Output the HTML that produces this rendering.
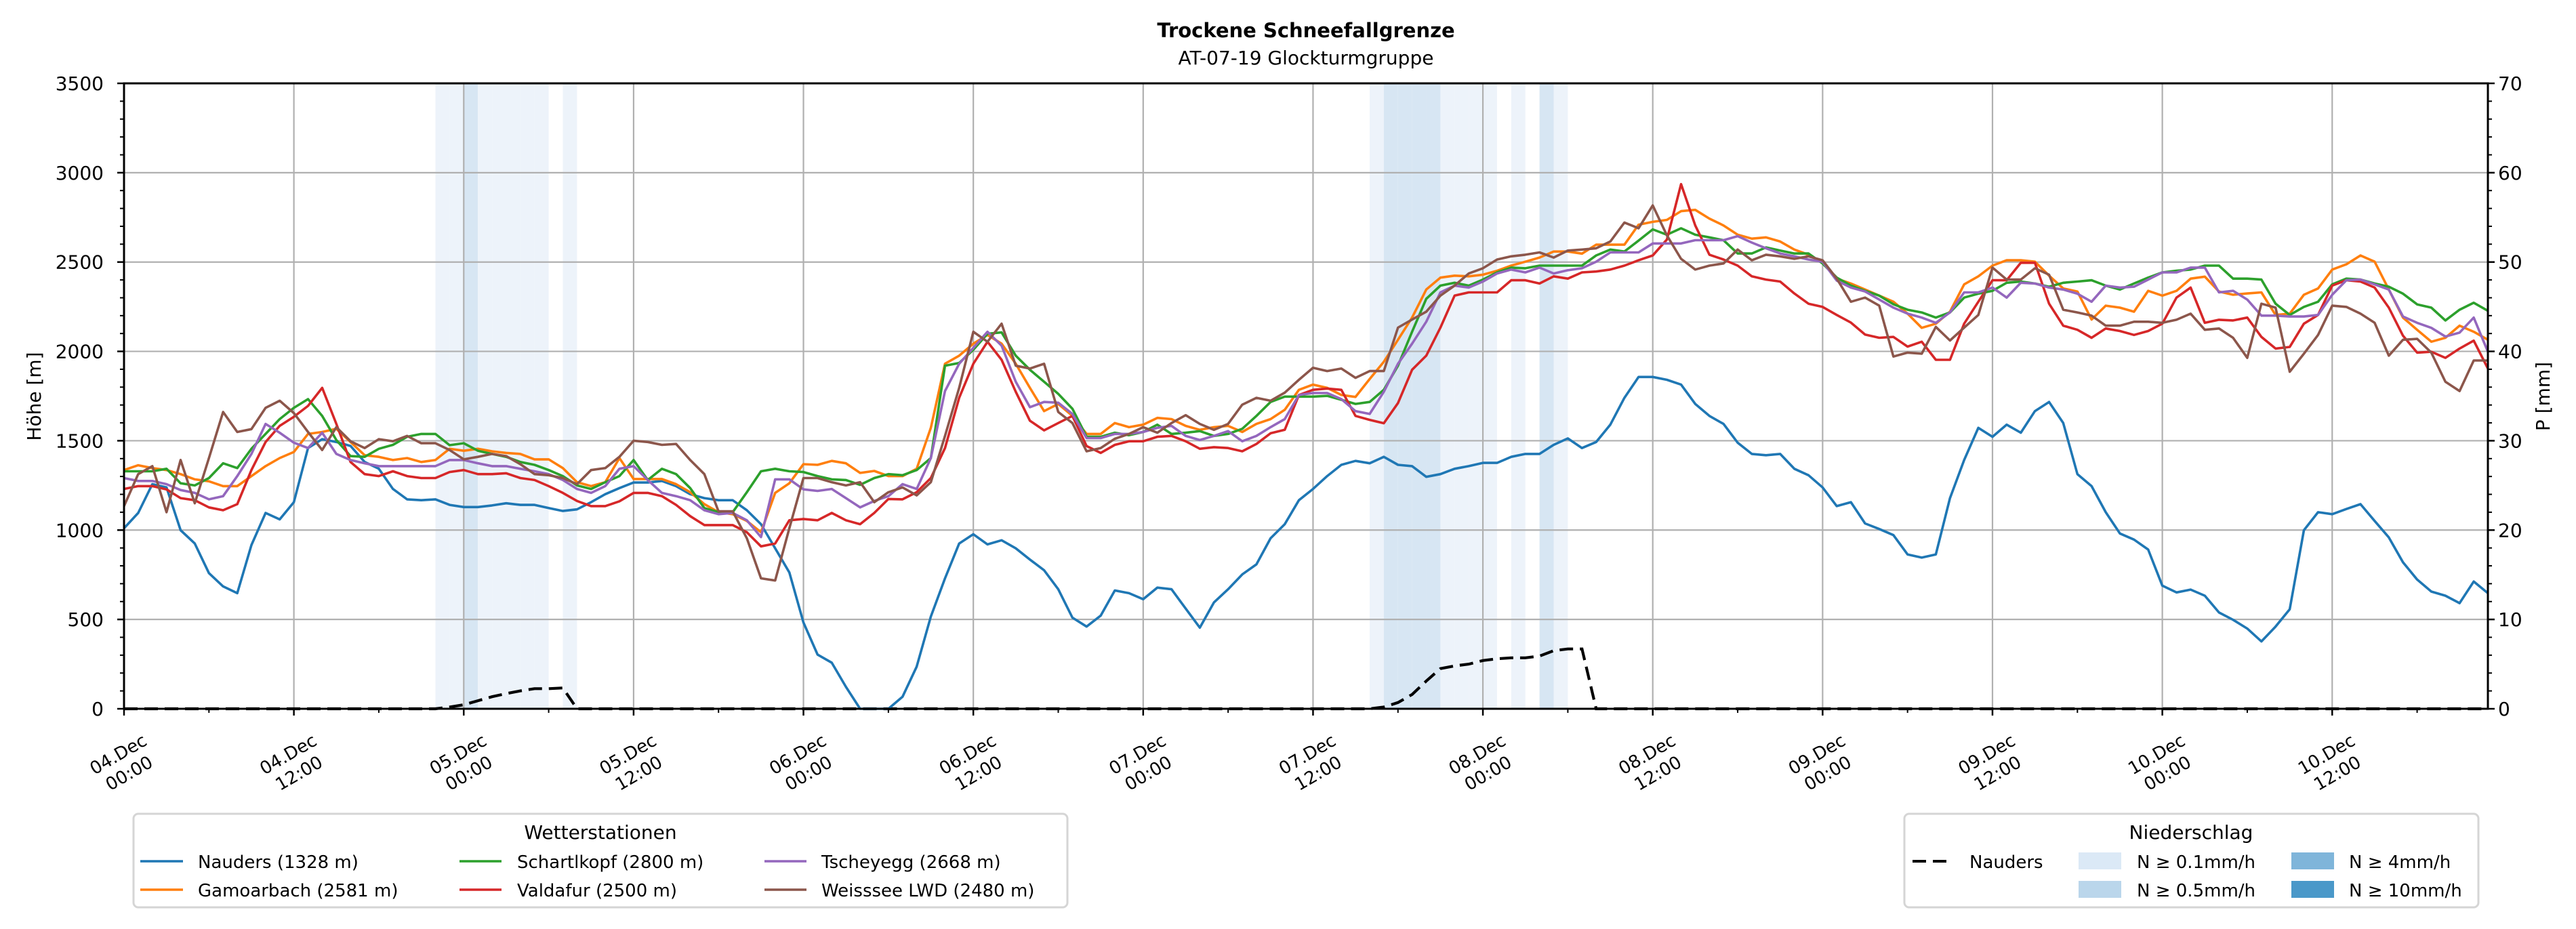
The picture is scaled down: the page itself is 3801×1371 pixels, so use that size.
<!DOCTYPE html>
<html><head><meta charset="utf-8"><title>Trockene Schneefallgrenze</title>
<style>
html,body{margin:0;padding:0;background:#fff;}
svg{display:block;font-family:"DejaVu Sans","Liberation Sans",sans-serif;}
</style></head>
<body>
<svg id="chart" xmlns="http://www.w3.org/2000/svg" width="3801" height="1371" viewBox="0 0 3801 1371">
<rect x="0" y="0" width="3801" height="1371" fill="#fff"/>
<text x="1927" y="55" text-anchor="middle" font-size="29" font-weight="bold">Trockene Schneefallgrenze</text>
<text x="1927" y="95" text-anchor="middle" font-size="28">AT-07-19 Glockturmgruppe</text>
<g id="bands"></g>
<g id="grid"></g>
<g id="series"></g>
<g id="axes"></g>
<text transform="translate(60,585) rotate(-90)" text-anchor="middle" font-size="28">Höhe [m]</text>
<text transform="translate(3762,585) rotate(-90)" text-anchor="middle" font-size="28">P [mm]</text>

<g>
<rect x="197" y="1201" width="1378" height="138" rx="7" fill="#fff" stroke="#d5d5d5" stroke-width="3"/>
<text x="886" y="1238" text-anchor="middle" font-size="28">Wetterstationen</text>
<g><line x1="207" y1="1271" x2="270" y2="1271" stroke="#1f77b4" stroke-width="3.5"/><text x="292" y="1281" font-size="26">Nauders (1328 m)</text></g>
<g><line x1="207" y1="1313" x2="270" y2="1313" stroke="#ff7f0e" stroke-width="3.5"/><text x="292" y="1323" font-size="26">Gamoarbach (2581 m)</text></g>
<g><line x1="678" y1="1271" x2="740" y2="1271" stroke="#2ca02c" stroke-width="3.5"/><text x="763" y="1281" font-size="26">Schartlkopf (2800 m)</text></g>
<g><line x1="678" y1="1313" x2="740" y2="1313" stroke="#d62728" stroke-width="3.5"/><text x="763" y="1323" font-size="26">Valdafur (2500 m)</text></g>
<g><line x1="1128" y1="1271" x2="1190" y2="1271" stroke="#9467bd" stroke-width="3.5"/><text x="1212" y="1281" font-size="26">Tscheyegg (2668 m)</text></g>
<g><line x1="1128" y1="1313" x2="1190" y2="1313" stroke="#8c564b" stroke-width="3.5"/><text x="1212" y="1323" font-size="26">Weisssee LWD (2480 m)</text></g>
</g>

<g>
<rect x="2810" y="1201" width="847" height="138" rx="7" fill="#fff" stroke="#d5d5d5" stroke-width="3"/>
<text x="3233" y="1238" text-anchor="middle" font-size="28">Niederschlag</text>
<g><line x1="2822" y1="1271" x2="2880" y2="1271" stroke="#000" stroke-width="4" stroke-dasharray="20,10"/><text x="2906" y="1281" font-size="26">Nauders</text></g>
<g><rect x="3067" y="1258" width="63" height="25" fill="#dbe9f6"/><text x="3153" y="1281" font-size="26">N ≥ 0.1mm/h</text></g>
<g><rect x="3067" y="1300" width="63" height="25" fill="#bad6eb"/><text x="3153" y="1323" font-size="26">N ≥ 0.5mm/h</text></g>
<g><rect x="3381" y="1258" width="63" height="25" fill="#7fb5da"/><text x="3466" y="1281" font-size="26">N ≥ 4mm/h</text></g>
<g><rect x="3381" y="1300" width="63" height="25" fill="#4a98c9"/><text x="3466" y="1323" font-size="26">N ≥ 10mm/h</text></g>
</g>
</svg>
<script>
const xTickLabels = ["04.Dec|00:00","04.Dec|12:00","05.Dec|00:00","05.Dec|12:00","06.Dec|00:00","06.Dec|12:00","07.Dec|00:00","07.Dec|12:00","08.Dec|00:00","08.Dec|12:00","09.Dec|00:00","09.Dec|12:00","10.Dec|00:00","10.Dec|12:00"];
const yTicks = [0,500,1000,1500,2000,2500,3000,3500];
const y2Ticks = [0,10,20,30,40,50,60,70];
const nauders = [1010,1096,1257,1239,999,925,759,685,647,916,1096,1060,1156,1459,1509,1493,1471,1381,1343,1230,1172,1167,1172,1141,1129,1129,1138,1150,1141,1141,1123,1107,1116,1156,1201,1235,1266,1266,1275,1246,1201,1179,1167,1167,1111,1033,898,763,483,303,258,123,0,0,0,67,236,516,730,925,977,920,943,898,835,775,669,510,460,521,662,647,613,678,669,561,454,595,669,752,808,954,1033,1167,1230,1302,1365,1387,1374,1410,1365,1358,1298,1313,1343,1358,1376,1376,1410,1426,1426,1477,1513,1459,1493,1590,1740,1857,1857,1841,1814,1706,1639,1594,1489,1426,1419,1426,1343,1307,1239,1134,1156,1037,1006,972,864,846,864,1179,1392,1572,1522,1590,1545,1666,1717,1599,1313,1246,1100,981,947,891,689,651,667,633,539,498,449,377,460,557,999,1100,1089,1118,1145,1051,959,820,723,656,633,591,712,647];
const gamoarbach = [1336,1363,1347,1336,1313,1284,1273,1246,1246,1302,1358,1403,1437,1538,1549,1567,1493,1419,1410,1392,1403,1381,1392,1455,1444,1455,1441,1432,1426,1396,1396,1347,1268,1246,1268,1403,1286,1286,1286,1257,1212,1145,1100,1089,1051,988,1208,1262,1369,1365,1387,1374,1320,1331,1302,1302,1343,1572,1931,1976,2043,2092,2043,1931,1796,1666,1706,1639,1538,1538,1599,1576,1590,1628,1621,1583,1561,1576,1583,1549,1594,1621,1673,1785,1814,1796,1756,1745,1845,1942,2065,2189,2346,2413,2424,2420,2429,2451,2480,2502,2525,2559,2559,2547,2597,2597,2597,2709,2725,2736,2785,2792,2743,2705,2653,2631,2638,2615,2570,2541,2496,2407,2380,2346,2312,2278,2211,2132,2155,2222,2375,2420,2480,2510,2510,2502,2424,2352,2335,2178,2256,2245,2222,2339,2312,2339,2407,2418,2335,2317,2324,2330,2204,2211,2317,2352,2458,2487,2537,2502,2346,2189,2121,2054,2076,2144,2110,2065];
const schartlkopf = [1329,1329,1329,1343,1262,1250,1291,1374,1347,1455,1538,1621,1684,1733,1639,1504,1414,1410,1455,1477,1522,1538,1538,1475,1486,1444,1426,1410,1381,1365,1336,1302,1250,1230,1268,1302,1392,1280,1343,1313,1235,1123,1100,1100,1212,1329,1343,1329,1325,1302,1284,1280,1253,1291,1313,1307,1336,1403,1920,1935,2009,2099,2106,1976,1897,1830,1762,1679,1522,1522,1545,1531,1549,1590,1538,1545,1554,1527,1538,1567,1639,1717,1747,1747,1747,1751,1729,1706,1717,1785,1920,2110,2294,2368,2384,2368,2402,2442,2469,2465,2480,2480,2480,2480,2537,2570,2559,2620,2683,2653,2689,2653,2638,2622,2548,2548,2582,2564,2548,2548,2492,2413,2368,2339,2312,2264,2233,2218,2189,2218,2301,2323,2339,2384,2391,2380,2362,2384,2391,2398,2368,2346,2380,2413,2442,2451,2458,2480,2480,2407,2407,2402,2267,2204,2249,2278,2375,2407,2402,2380,2362,2323,2263,2245,2173,2233,2272,2227];
const valdafur = [1230,1246,1246,1228,1179,1167,1127,1111,1145,1336,1493,1583,1634,1695,1796,1594,1381,1313,1302,1329,1302,1291,1291,1325,1336,1313,1313,1318,1291,1280,1246,1208,1163,1134,1134,1161,1208,1208,1190,1141,1078,1028,1028,1028,988,909,925,1055,1062,1055,1096,1055,1033,1096,1174,1172,1212,1291,1459,1740,1931,2054,1953,1774,1612,1558,1599,1639,1470,1432,1477,1497,1497,1522,1527,1497,1455,1464,1459,1441,1482,1542,1561,1756,1785,1792,1785,1639,1617,1598,1711,1897,1976,2133,2312,2330,2330,2330,2398,2398,2380,2420,2407,2442,2447,2458,2480,2510,2537,2626,2936,2705,2541,2514,2480,2420,2402,2391,2324,2267,2249,2204,2161,2094,2076,2081,2027,2054,1953,1953,2155,2278,2398,2398,2496,2496,2267,2144,2121,2076,2128,2114,2092,2114,2155,2301,2357,2160,2177,2173,2189,2081,2016,2025,2155,2204,2368,2398,2391,2357,2245,2088,1993,1998,1964,2016,2060,1904];
const tscheyegg = [1291,1275,1275,1257,1224,1208,1172,1190,1302,1426,1594,1545,1489,1459,1545,1426,1392,1374,1358,1358,1358,1358,1358,1392,1392,1374,1358,1358,1343,1329,1313,1280,1230,1208,1246,1343,1358,1280,1208,1190,1167,1111,1089,1096,1055,961,1284,1284,1228,1219,1230,1179,1127,1163,1190,1257,1230,1403,1778,1931,2020,2110,2032,1830,1688,1717,1713,1650,1515,1515,1538,1538,1549,1572,1583,1527,1504,1527,1554,1497,1527,1576,1621,1756,1767,1767,1733,1666,1650,1774,1931,2043,2166,2330,2368,2357,2391,2436,2458,2442,2469,2436,2454,2465,2502,2554,2554,2554,2604,2604,2604,2622,2622,2622,2645,2609,2577,2548,2532,2514,2502,2396,2357,2335,2290,2245,2211,2189,2160,2218,2330,2330,2357,2301,2384,2380,2357,2346,2323,2278,2368,2357,2362,2402,2442,2442,2469,2469,2330,2339,2290,2200,2200,2195,2195,2204,2317,2398,2402,2375,2346,2195,2160,2132,2083,2105,2189,1998];
const weisssee = [1134,1313,1358,1100,1392,1150,1403,1661,1549,1565,1684,1724,1655,1549,1448,1576,1497,1459,1509,1497,1527,1486,1486,1448,1396,1410,1426,1414,1369,1313,1307,1291,1257,1336,1347,1410,1500,1493,1477,1482,1392,1313,1105,1105,954,730,718,1010,1291,1291,1268,1250,1268,1156,1212,1239,1194,1268,1527,1796,2110,2054,2155,1920,1904,1931,1661,1599,1441,1459,1511,1538,1576,1545,1599,1643,1594,1561,1594,1702,1740,1724,1769,1841,1908,1890,1904,1852,1890,1890,2133,2178,2222,2312,2368,2436,2465,2514,2532,2541,2554,2525,2564,2570,2577,2615,2721,2689,2817,2649,2518,2458,2480,2492,2570,2510,2541,2532,2518,2532,2510,2407,2278,2301,2256,1971,1993,1987,2137,2061,2133,2204,2469,2402,2402,2465,2429,2233,2218,2200,2144,2144,2166,2166,2160,2177,2211,2121,2128,2076,1964,2267,2245,1886,1987,2092,2256,2249,2211,2160,1976,2065,2070,1993,1830,1778,1949,1949];
const precipNauders = [0,0,0,0,0,0,0,0,0,0,0,0,0,0,0,0,0,0,0,0,0,0,0,0.2,0.45,0.9,1.35,1.7,2.0,2.25,2.25,2.33,0,0,0,0,0,0,0,0,0,0,0,0,0,0,0,0,0,0,0,0,0,0,0,0,0,0,0,0,0,0,0,0,0,0,0,0,0,0,0,0,0,0,0,0,0,0,0,0,0,0,0,0,0,0,0,0,0,0.2,0.7,1.6,3.1,4.5,4.8,5.0,5.4,5.6,5.7,5.7,5.9,6.5,6.7,6.7,0,0,0,0,0,0,0,0,0,0,0,0,0,0,0,0,0,0,0,0,0,0,0,0,0,0,0,0,0,0,0,0,0,0,0,0,0,0,0,0,0,0,0,0,0,0,0,0,0,0,0,0,0,0,0,0,0,0,0,0,0,0,0,0];
const bandHours = [22,23,24,25,26,27,28,29,31,88,89,90,91,92,93,94,95,96,98,100,101];
const bandClass = [1,1,2,1,1,1,1,1,1,1,2,2,2,2,1,1,1,1,1,2,1];

const NS = "http://www.w3.org/2000/svg";
const L = 183, R = 3671, T = 123, B = 1046, HMAX = 167;
const xs = h => L + (R - L) * h / HMAX;
const ys = v => B - (B - T) * v / 3500;
const ys2 = v => B - (B - T) * v / 70;
function mk(tag, attrs, parent) {
  const e = document.createElementNS(NS, tag);
  for (const k in attrs) e.setAttribute(k, attrs[k]);
  parent.appendChild(e);
  return e;
}
const gBands = document.getElementById('bands');
const gGrid = document.getElementById('grid');
const gSeries = document.getElementById('series');
const gAxes = document.getElementById('axes');

bandHours.forEach((h, i) => {
  const r = mk('rect', {x: xs(h), y: T, width: xs(h + 1) - xs(h), height: B - T, fill: bandClass[i] === 2 ? '#d7e6f3' : '#edf3fa'}, gBands);
  
  
});

xTickLabels.forEach((lab, i) => {
  const x = xs(i * 12);
  const gl = mk('line', {x1: x, y1: T, x2: x, y2: B, stroke: '#b0b0b0', 'stroke-width': 2.2}, gGrid);
  
  
});
yTicks.forEach(v => {
  const gl = mk('line', {x1: L, y1: ys(v), x2: R, y2: ys(v), stroke: '#b0b0b0', 'stroke-width': 2.2}, gGrid);
  
  
});

// precipitation dashed line (right axis)
const pd = precipNauders.map((v, h) => (h ? 'L' : 'M') + xs(h).toFixed(1) + ',' + ys2(v).toFixed(1)).join('');
const pp = mk('path', {d: pd, fill: 'none', stroke: '#000', 'stroke-width': 4.2, 'stroke-dasharray': '20,10'}, gSeries);



const seriesList = [
  ['line-nauders', nauders, '#1f77b4'],
  ['line-gamoarbach', gamoarbach, '#ff7f0e'],
  ['line-schartlkopf', schartlkopf, '#2ca02c'],
  ['line-valdafur', valdafur, '#d62728'],
  ['line-tscheyegg', tscheyegg, '#9467bd'],
  ['line-weisssee', weisssee, '#8c564b']
];
seriesList.forEach(s => {
  const d = s[1].map((v, h) => (h ? 'L' : 'M') + xs(h).toFixed(1) + ',' + ys(v).toFixed(1)).join('');
  const p = mk('path', {d: d, fill: 'none', stroke: s[2], 'stroke-width': 3.6, 'stroke-linejoin': 'round'}, gSeries);
  
  
});

// spines
const fr = mk('rect', {x: L, y: T, width: R - L, height: B - T, fill: 'none', stroke: '#000', 'stroke-width': 3}, gAxes);



// x ticks
for (let h = 0; h <= HMAX; h += 6) {
  const major = h % 12 === 0;
  const t = mk('line', {x1: xs(h), y1: B, x2: xs(h), y2: B + (major ? 10 : 6), stroke: '#000', 'stroke-width': major ? 2.5 : 2}, gAxes);
  
  
}
xTickLabels.forEach((lab, i) => {
  const parts = lab.split('|');
  const g = mk('text', {transform: 'translate(' + xs(i * 12) + ',1128) rotate(-30)', 'text-anchor': 'middle', 'font-size': 26}, gAxes);
  
  
  const a = mk('tspan', {x: 0, y: -8}, g); a.textContent = parts[0];
  const b = mk('tspan', {x: 0, y: 24}, g); b.textContent = parts[1];
});
// left y ticks
for (let v = 0; v <= 3500; v += 100) {
  const major = v % 500 === 0;
  const t = mk('line', {x1: L, y1: ys(v), x2: L - (major ? 10 : 6), y2: ys(v), stroke: '#000', 'stroke-width': major ? 2.5 : 2}, gAxes);
  
  
}
yTicks.forEach(v => {
  const t = mk('text', {x: 153, y: ys(v) + 10, 'text-anchor': 'end', 'font-size': 28}, gAxes);
  t.textContent = String(v);
  
  
});
// right y ticks
for (let v = 0; v <= 70; v += 2) {
  const major = v % 10 === 0;
  const t = mk('line', {x1: R, y1: ys2(v), x2: R + (major ? 10 : 6), y2: ys2(v), stroke: '#000', 'stroke-width': major ? 2.5 : 2}, gAxes);
  
  
}
y2Ticks.forEach(v => {
  const t = mk('text', {x: 3686, y: ys2(v) + 10, 'text-anchor': 'start', 'font-size': 28}, gAxes);
  t.textContent = String(v);
  
  
});
</script>
</body></html>
